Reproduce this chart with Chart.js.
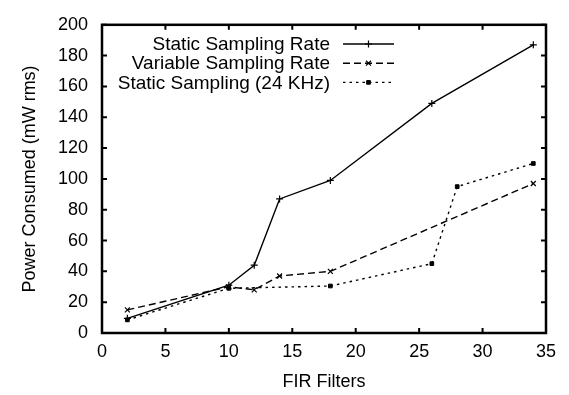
<!DOCTYPE html>
<html>
<head>
<meta charset="utf-8">
<script src="https://cdn.jsdelivr.net/npm/chart.js@4.4.1/dist/chart.umd.min.js"></script>
<style>
  html, body { margin: 0; padding: 0; background: #fff; }
  #wrap { width: 569px; height: 395px; }
</style>
</head>
<body>
<div id="wrap"><canvas id="powerChart"></canvas></div>
<script>
// Data
const seriesLabels = ['Static Sampling Rate', 'Variable Sampling Rate', 'Static Sampling (24 KHz)'];

const staticX = [2, 10, 12, 14, 18, 26, 34];
const staticY = [9.5, 31, 44, 87, 99, 149, 187];

const variableX = [2, 10, 12, 14, 18, 34];
const variableY = [15, 30, 28, 37, 40, 97];

const khzX = [2, 10, 18, 26, 28, 34];
const khzY = [8.5, 29, 30.5, 45, 95, 110];

const xTicks = [0, 5, 10, 15, 20, 25, 30, 35];
const yTicks = [0, 20, 40, 60, 80, 100, 120, 140, 160, 180, 200];

const FONT = "'Liberation Sans', Arial, Helvetica, sans-serif";

function toPoints(xs, ys) {
  return xs.map((x, i) => ({ x: x, y: ys[i] }));
}

// gnuplot-like frame: border, inward ticks on all four sides, legend inside
const framePlugin = {
  id: 'frame',
  afterDraw(chart) {
    const { ctx, chartArea: a, scales } = chart;
    const xs = scales.x, ys = scales.y;
    ctx.save();
    ctx.strokeStyle = '#000';
    ctx.setLineDash([]);

    // Ticks
    ctx.lineWidth = 2;
    ctx.beginPath();
    xTicks.forEach(v => {
      const px = xs.getPixelForValue(v);
      ctx.moveTo(px, a.bottom); ctx.lineTo(px, a.bottom - 5);
      ctx.moveTo(px, a.top); ctx.lineTo(px, a.top + 5);
    });
    yTicks.forEach(v => {
      const py = ys.getPixelForValue(v);
      ctx.moveTo(a.left, py); ctx.lineTo(a.left + 5, py);
      ctx.moveTo(a.right, py); ctx.lineTo(a.right - 5, py);
    });
    ctx.stroke();

    // Border
    ctx.lineWidth = 2.5;
    ctx.strokeRect(a.left, a.top, a.right - a.left, a.bottom - a.top);

    // Legend (text right-aligned, sample to the right)
    ctx.font = '19px ' + FONT;
    ctx.fillStyle = '#000';
    ctx.textAlign = 'right';
    ctx.textBaseline = 'middle';
    const textRight = 330, lineStart = 343, lineEnd = 394, rowTop = 44, rowStep = 19.2;
    chart.data.datasets.forEach((ds, i) => {
      const yy = rowTop + i * rowStep;
      ctx.fillText(ds.label, textRight, yy + 1);
      ctx.lineWidth = ds.borderWidth;
      ctx.setLineDash(ds.borderDash || []);
      ctx.beginPath();
      ctx.moveTo(lineStart, yy);
      ctx.lineTo(lineEnd, yy);
      ctx.stroke();
      ctx.setLineDash([]);
      ctx.lineWidth = ds.pointBorderWidth;
      Chart.helpers.drawPoint(ctx, {
        pointStyle: ds.pointStyle,
        radius: ds.pointRadius,
        rotation: 0,
        borderWidth: ds.pointBorderWidth
      }, (lineStart + lineEnd) / 2, yy);
    });
    ctx.restore();
  }
};

const ctx = document.getElementById('powerChart').getContext('2d');
new Chart(ctx, {
  type: 'line',
  data: {
    datasets: [
      {
        label: seriesLabels[0],
        data: toPoints(staticX, staticY),
        borderColor: '#000',
        backgroundColor: '#000',
        borderWidth: 1.4,
        pointStyle: 'cross',
        pointRadius: 3.5,
        pointBorderWidth: 1.2,
        tension: 0
      },
      {
        label: seriesLabels[1],
        data: toPoints(variableX, variableY),
        borderColor: '#000',
        backgroundColor: '#000',
        borderWidth: 1.4,
        borderDash: [7, 4],
        pointStyle: 'crossRot',
        pointRadius: 3.5,
        pointBorderWidth: 1.2,
        tension: 0
      },
      {
        label: seriesLabels[2],
        data: toPoints(khzX, khzY),
        borderColor: '#000',
        backgroundColor: '#000',
        borderWidth: 1.4,
        borderDash: [2.5, 4],
        pointStyle: 'rect',
        pointRadius: 2.6,
        pointBorderWidth: 1,
        tension: 0
      }
    ]
  },
  options: {
    responsive: true,
    maintainAspectRatio: false,
    animation: false,
    layout: { padding: { left: 0, right: 23, top: 14, bottom: 0 } },
    plugins: {
      legend: { display: false },
      tooltip: { enabled: false }
    },
    scales: {
      x: {
        type: 'linear',
        min: 0,
        max: 35,
        afterBuildTicks: s => { s.ticks = xTicks.map(v => ({ value: v })); },
        afterFit: s => { s.height = 62; },
        grid: { display: false, drawTicks: false },
        border: { display: false },
        ticks: { color: '#000', font: { family: FONT, size: 18 }, padding: 8, maxRotation: 0 },
        title: {
          display: true,
          text: 'FIR Filters',
          color: '#000',
          font: { family: FONT, size: 18 },
          padding: { top: 0, bottom: 2 }
        }
      },
      y: {
        type: 'linear',
        min: 0,
        max: 200,
        afterBuildTicks: s => { s.ticks = yTicks.map(v => ({ value: v })); },
        afterFit: s => { s.width = 102; },
        grid: { display: false, drawTicks: false },
        border: { display: false },
        ticks: { color: '#000', font: { family: FONT, size: 18 }, padding: 14 },
        title: {
          display: true,
          text: 'Power Consumed (mW rms)',
          color: '#000',
          font: { family: FONT, size: 18 },
          padding: { top: 19, bottom: 0 }
        }
      }
    }
  },
  plugins: [framePlugin]
});
</script>
</body>
</html>
